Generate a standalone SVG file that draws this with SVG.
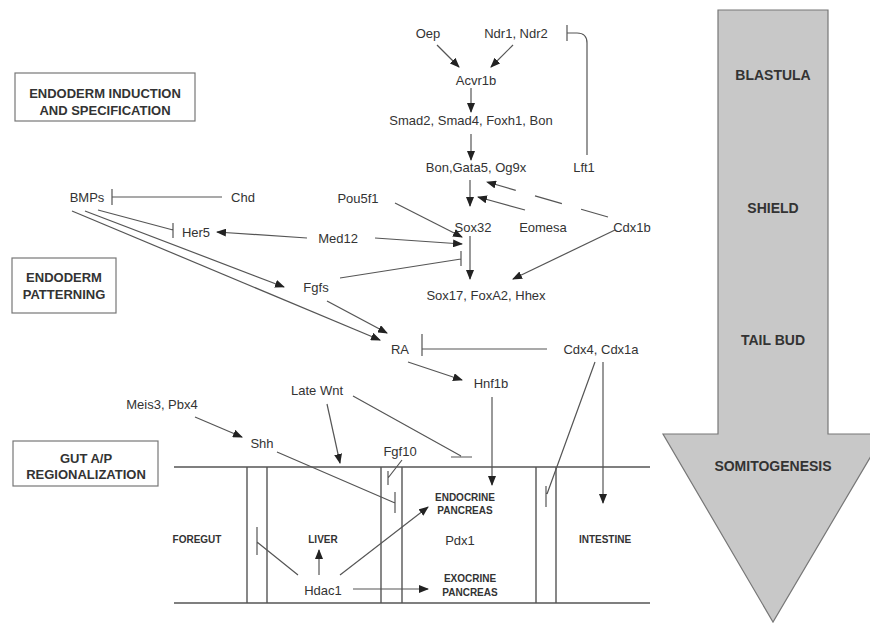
<svg xmlns="http://www.w3.org/2000/svg" width="870" height="625" viewBox="0 0 870 625">
<style>
.t{font-family:"Liberation Sans",Arial,sans-serif;font-size:13px;fill:#333;text-anchor:middle}
.b{font-family:"Liberation Sans",Arial,sans-serif;font-weight:bold;fill:#333;text-anchor:middle}
.box{fill:#fff;stroke:#777;stroke-width:1.2}
.c{stroke:#555;stroke-width:1.2;fill:none}
.a{stroke:#555;stroke-width:1.2;fill:none;marker-end:url(#ah)}
.g{stroke:#555;stroke-width:1.4;fill:none}
</style>
<defs>
<marker id="ah" markerWidth="10" markerHeight="8" refX="9" refY="4" orient="auto" markerUnits="userSpaceOnUse">
<path d="M0,0 L10,4 L0,8 Z" fill="#222"/>
</marker>
</defs>
<rect width="870" height="625" fill="#fff"/>

<g id="stage-arrow">
<polygon points="718,10 828,10 828,434 884,434 773,622 663,434 718,434" fill="#c8c8c8" stroke="#777" stroke-width="1.2"/>
<text class="b" x="773" y="80" font-size="14">BLASTULA</text>
<text class="b" x="773" y="213" font-size="14">SHIELD</text>
<text class="b" x="773" y="345" font-size="14">TAIL BUD</text>
<text class="b" x="773" y="471" font-size="14">SOMITOGENESIS</text>
</g>

<g id="box-induction"><rect class="box" x="15" y="73" width="180" height="48"/>
<text class="b" x="105" y="98" font-size="13">ENDODERM INDUCTION</text>
<text class="b" x="105" y="115" font-size="13">AND SPECIFICATION</text></g>
<g id="box-patterning"><rect class="box" x="12" y="258" width="104" height="55"/>
<text class="b" x="64" y="282" font-size="13">ENDODERM</text>
<text class="b" x="64" y="299" font-size="13">PATTERNING</text></g>
<g id="box-gut"><rect class="box" x="13" y="441" width="145" height="45"/>
<text class="b" x="86" y="463" font-size="13">GUT A/P</text>
<text class="b" x="86" y="479" font-size="13">REGIONALIZATION</text></g>

<g id="gut">
<line class="g" x1="174" y1="467" x2="650" y2="467"/>
<line class="g" x1="174" y1="603" x2="650" y2="603"/>
<line class="g" x1="247" y1="467" x2="247" y2="603"/>
<line class="g" x1="267" y1="467" x2="267" y2="603"/>
<line class="g" x1="381" y1="467" x2="381" y2="603"/>
<line class="g" x1="402" y1="467" x2="402" y2="603"/>
<line class="g" x1="536" y1="467" x2="536" y2="603"/>
<line class="g" x1="556" y1="467" x2="556" y2="603"/>
</g>

<g id="n-oep"><text class="t" x="428" y="38">Oep</text></g>
<g id="n-ndr"><text class="t" x="516" y="38">Ndr1, Ndr2</text></g>
<g id="n-acvr1b"><text class="t" x="476" y="85">Acvr1b</text></g>
<g id="n-smad"><text class="t" x="471" y="125">Smad2, Smad4, Foxh1, Bon</text></g>
<g id="n-bon"><text class="t" x="476" y="172">Bon,Gata5, Og9x</text></g>
<g id="n-lft1"><text class="t" x="584" y="172">Lft1</text></g>
<g id="n-bmps"><text class="t" x="87" y="202">BMPs</text></g>
<g id="n-chd"><text class="t" x="243" y="202">Chd</text></g>
<g id="n-pou5f1"><text class="t" x="358" y="203">Pou5f1</text></g>
<g id="n-her5"><text class="t" x="196" y="237">Her5</text></g>
<g id="n-med12"><text class="t" x="338" y="243">Med12</text></g>
<g id="n-sox32"><text class="t" x="473" y="232">Sox32</text></g>
<g id="n-eomesa"><text class="t" x="543" y="232">Eomesa</text></g>
<g id="n-cdx1b"><text class="t" x="632" y="232">Cdx1b</text></g>
<g id="n-fgfs"><text class="t" x="316" y="292">Fgfs</text></g>
<g id="n-sox17"><text class="t" x="486" y="300">Sox17, FoxA2, Hhex</text></g>
<g id="n-ra"><text class="t" x="400" y="354">RA</text></g>
<g id="n-cdx4"><text class="t" x="601" y="354">Cdx4, Cdx1a</text></g>
<g id="n-hnf1b"><text class="t" x="491" y="388">Hnf1b</text></g>
<g id="n-latewnt"><text class="t" x="317" y="395">Late Wnt</text></g>
<g id="n-meis3"><text class="t" x="162" y="409">Meis3, Pbx4</text></g>
<g id="n-shh"><text class="t" x="262" y="448">Shh</text></g>
<g id="n-fgf10"><text class="t" x="400" y="456">Fgf10</text></g>
<g id="n-hdac1"><text class="t" x="323" y="595" font-size="14">Hdac1</text></g>
<g id="n-pdx1"><text class="t" x="460" y="545" font-size="14">Pdx1</text></g>
<g id="n-foregut"><text class="b" x="197" y="543" font-size="10">FOREGUT</text></g>
<g id="n-liver"><text class="b" x="323" y="543" font-size="10">LIVER</text></g>
<g id="n-endocrine"><text class="b" x="465" y="501" font-size="10">ENDOCRINE</text><text class="b" x="465" y="514" font-size="10">PANCREAS</text></g>
<g id="n-exocrine"><text class="b" x="470" y="582" font-size="10">EXOCRINE</text><text class="b" x="470" y="596" font-size="10">PANCREAS</text></g>
<g id="n-intestine"><text class="b" x="605" y="543" font-size="10">INTESTINE</text></g>

<g id="connectors">
<line class="a" x1="437" y1="45" x2="459" y2="67"/>
<line class="a" x1="513" y1="45" x2="491" y2="67"/>
<line class="a" x1="471" y1="88" x2="471" y2="112"/>
<line class="a" x1="471" y1="134" x2="471" y2="160"/>
<path class="c" d="M587,155 V43 Q587,33 577,33 H567 M567,25 V41"/>
<line class="a" x1="470" y1="180" x2="470" y2="206"/>
<line class="a" x1="525" y1="210" x2="478" y2="197"/>
<line class="a" x1="608" y1="217" x2="487" y2="182" stroke-dasharray="28 20"/>
<line class="a" x1="395" y1="203" x2="462" y2="237"/>
<line class="a" x1="375" y1="238" x2="462" y2="244"/>
<line class="a" x1="470" y1="236" x2="470" y2="279"/>
<path class="c" d="M340,278 L461,259 M461,251 V266"/>
<line class="a" x1="615" y1="230" x2="513" y2="279"/>
<path class="c" d="M222,197 H112 M112,189 V205"/>
<path class="c" d="M98,210 L173,230 M173,223 V238"/>
<line class="a" x1="307" y1="238" x2="217" y2="232"/>
<line class="a" x1="85" y1="211" x2="284" y2="287"/>
<line class="a" x1="72" y1="211" x2="380" y2="340"/>
<line class="a" x1="327" y1="301" x2="387" y2="333"/>
<path class="c" d="M547,349 H422 M422,334 V356"/>
<line class="a" x1="408" y1="362" x2="462" y2="380"/>
<line class="a" x1="492" y1="397" x2="492" y2="485"/>
<path class="c" d="M595,362 L547,494 M546,486 V507"/>
<line class="a" x1="603" y1="362" x2="603" y2="503"/>
<line class="a" x1="195" y1="417" x2="242" y2="437"/>
<line class="a" x1="327" y1="404" x2="340" y2="463"/>
<path class="c" d="M353,396 L461,456 M451,457 H472"/>
<path class="c" d="M277,452 L395,503 M395,492 V513"/>
<path class="c" d="M402,460 L388,478 M388,471 V485"/>
<path class="c" d="M298,575 L257,542 M257,527 V555"/>
<line class="a" x1="319" y1="575" x2="319" y2="550"/>
<line class="a" x1="340" y1="575" x2="428" y2="507"/>
<line class="a" x1="353" y1="589" x2="428" y2="589"/>
</g>
</svg>
